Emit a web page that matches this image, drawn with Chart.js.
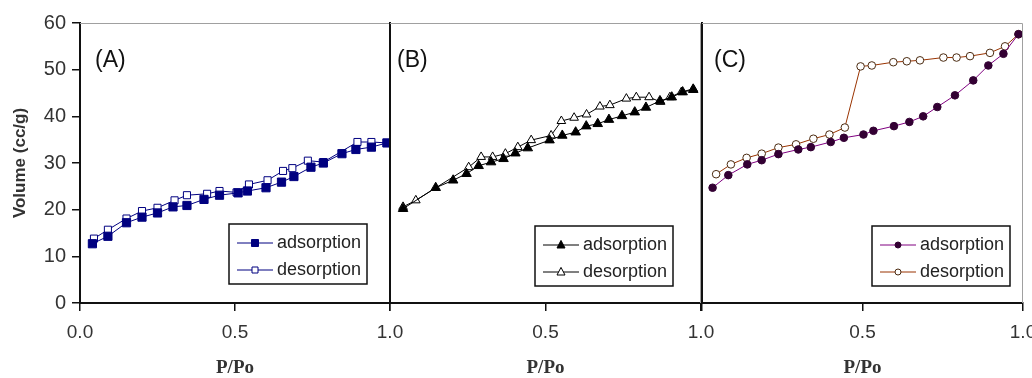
<!DOCTYPE html>
<html>
<head>
<meta charset="utf-8">
<script src="https://cdn.jsdelivr.net/npm/chart.js@4/dist/chart.umd.min.js"></script>
<style>
  body { margin: 0; background: #fff; }
  #wrap { position: relative; width: 1032px; height: 378px; overflow: hidden; }
  canvas { position: absolute; top: 0; }
</style>
</head>
<body>
<div id="wrap">
  <canvas id="chartA" width="410" height="378" style="left:0px"></canvas>
  <canvas id="chartB" width="345" height="378" style="left:380px"></canvas>
  <canvas id="chartC" width="342" height="378" style="left:690px"></canvas>
</div>
<script>
// values, P/Po vs volume (cc/g)
const xTicks = [0, 0.5, 1.0];
const yTicks = [0, 10, 20, 30, 40, 50, 60];
const seriesNames = ["adsorption", "desorption"];
const panelNames = ["(A)", "(B)", "(C)"];

const aAdsX = [0.04, 0.09, 0.15, 0.20, 0.25, 0.30, 0.345, 0.40, 0.45, 0.51, 0.54, 0.60, 0.65, 0.69, 0.745, 0.785, 0.845, 0.89, 0.94, 0.99];
const aAdsY = [12.7, 14.3, 17.2, 18.4, 19.3, 20.6, 20.9, 22.2, 23.1, 23.6, 24.0, 24.7, 25.9, 27.1, 29.1, 30.0, 32.0, 32.9, 33.4, 34.3];
const aDesX = [0.045, 0.09, 0.15, 0.20, 0.25, 0.305, 0.345, 0.41, 0.45, 0.505, 0.545, 0.605, 0.655, 0.685, 0.735, 0.785, 0.895, 0.94, 0.99];
const aDesY = [13.8, 15.7, 18.1, 19.7, 20.4, 22.0, 23.1, 23.4, 24.0, 23.7, 25.4, 26.3, 28.3, 28.9, 30.5, 30.2, 34.5, 34.5, 34.3];

const bAdsX = [0.042, 0.147, 0.203, 0.246, 0.285, 0.325, 0.365, 0.403, 0.443, 0.513, 0.554, 0.597, 0.631, 0.668, 0.704, 0.746, 0.787, 0.823, 0.868, 0.906, 0.941, 0.975];
const bAdsY = [20.2, 24.7, 26.3, 27.7, 29.4, 30.2, 30.9, 32.1, 33.2, 34.9, 35.9, 36.6, 37.9, 38.4, 39.3, 40.1, 40.9, 41.9, 43.3, 44.1, 45.2, 45.7];
const bDesX = [0.042, 0.083, 0.253, 0.293, 0.33, 0.371, 0.411, 0.454, 0.518, 0.551, 0.592, 0.632, 0.675, 0.707, 0.76, 0.792, 0.833, 0.87, 0.9, 0.937, 0.975];
const bDesY = [20.6, 22.0, 29.1, 31.3, 31.3, 32.0, 33.4, 34.9, 35.9, 39.0, 39.7, 40.4, 42.1, 42.4, 43.8, 44.1, 44.1, 43.1, 44.1, 45.2, 45.9];

const cAdsX = [0.033, 0.082, 0.141, 0.186, 0.238, 0.30, 0.339, 0.401, 0.442, 0.503, 0.534, 0.598, 0.646, 0.689, 0.733, 0.788, 0.845, 0.892, 0.939, 0.986];
const cAdsY = [24.7, 27.4, 29.7, 30.6, 31.9, 32.9, 33.4, 34.5, 35.4, 36.1, 36.9, 37.9, 38.8, 40.0, 42.0, 44.5, 47.7, 50.9, 53.4, 57.6];
const cDesX = [0.044, 0.09, 0.139, 0.186, 0.238, 0.293, 0.347, 0.397, 0.445, 0.494, 0.529, 0.596, 0.638, 0.679, 0.752, 0.793, 0.835, 0.897, 0.944, 0.986];
const cDesY = [27.6, 29.7, 31.1, 32.0, 33.3, 34.0, 35.2, 36.1, 37.6, 50.7, 50.9, 51.6, 51.8, 52.0, 52.6, 52.6, 52.9, 53.6, 55.0, 57.6];

function toPoints(xs, ys) {
    return xs.map((x, i) => ({ x: x, y: ys[i] }));
}

// draws a marker like the ones chart.js uses, for the legend box
function drawMarker(ctx, style, x, y, r, fill, stroke) {
    ctx.save();
    ctx.fillStyle = fill;
    ctx.strokeStyle = stroke;
    ctx.lineWidth = 1;
    ctx.beginPath();
    if (style === "rect") {
        ctx.rect(x - r, y - r, 2 * r, 2 * r);
    } else if (style === "triangle") {
        ctx.moveTo(x, y - r * 1.15);
        ctx.lineTo(x + r, y + r * 0.75);
        ctx.lineTo(x - r, y + r * 0.75);
        ctx.closePath();
    } else {
        ctx.arc(x, y, r, 0, Math.PI * 2);
    }
    ctx.fill();
    ctx.stroke();
    ctx.restore();
}

// gray frame, panel label and the legend box inside the plot
const panelPlugin = {
    id: "panelExtras",
    afterDraw(chart, args, opts) {
        const ctx = chart.ctx;
        const area = chart.chartArea;
        ctx.save();
        ctx.strokeStyle = "#a0a0a0";
        ctx.lineWidth = 1;
        ctx.beginPath();
        ctx.moveTo(area.left, area.top + 0.5);
        ctx.lineTo(area.right - 0.5, area.top + 0.5);
        ctx.lineTo(area.right - 0.5, area.bottom);
        ctx.stroke();

        ctx.fillStyle = "#111";
        ctx.font = "23px 'Liberation Sans', Arial, sans-serif";
        ctx.textBaseline = "alphabetic";
        ctx.fillText(opts.label, area.left + opts.labelDx, area.top + 44);

        // legend
        const w = 138, h = 60;
        const bx = area.right - opts.legendRight - w;
        const by = area.bottom - opts.legendBottom - h;
        ctx.fillStyle = "#fff";
        ctx.fillRect(bx, by, w, h);
        ctx.strokeStyle = "#111";
        ctx.lineWidth = 1.5;
        ctx.strokeRect(bx, by, w, h);
        ctx.font = "18px 'Liberation Sans', Arial, sans-serif";
        ctx.textBaseline = "middle";
        chart.data.datasets.forEach((ds, i) => {
            const ry = by + 19 + i * 27;
            ctx.strokeStyle = ds.borderColor;
            ctx.lineWidth = 1;
            ctx.beginPath();
            ctx.moveTo(bx + 8, ry);
            ctx.lineTo(bx + 44, ry);
            ctx.stroke();
            drawMarker(ctx, ds.pointStyle, bx + 26, ry, ds.legendR, ds.pointBackgroundColor, ds.pointBorderColor);
            ctx.fillStyle = "#222";
            ctx.fillText(ds.label, bx + 48, ry);
        });
        ctx.restore();
    }
};

function makePanel(canvasId, datasets, opts) {
    const ctx = document.getElementById(canvasId);
    return new Chart(ctx, {
        type: "line",
        data: { datasets: datasets },
        options: {
            responsive: false,
            animation: false,
            devicePixelRatio: 1,
            layout: { padding: { top: 23, right: opts.padRight, left: 0, bottom: 0 } },
            plugins: {
                legend: { display: false },
                tooltip: { enabled: false },
                panelExtras: opts.extras
            },
            scales: {
                x: {
                    type: "linear",
                    min: 0,
                    max: 1,
                    afterBuildTicks: (scale) => { scale.ticks = xTicks.map(v => ({ value: v })); },
                    afterFit: (scale) => {
                        scale.height = 75;
                        scale.paddingLeft = 0; scale.paddingRight = 0;
                    },
                    ticks: {
                        color: "#333",
                        font: { family: "'Liberation Sans', Arial, sans-serif", size: 19 },
                        padding: 10,
                        maxRotation: 0,
                        autoSkip: false,
                        callback: (v) => (opts.hideZero && v === 0) ? "" : v.toFixed(1)
                    },
                    grid: { drawOnChartArea: false, drawTicks: true, tickLength: 8, color: "#111", lineWidth: 1.5 },
                    border: { color: "#111", width: 2 },
                    title: {
                        display: true,
                        text: "P/Po",
                        color: "#333",
                        font: { family: "'Liberation Serif', 'Times New Roman', serif", size: 19, weight: "bold", lineHeight: 1 },
                        padding: { top: 0, bottom: 0 }
                    }
                },
                y: {
                    min: 0,
                    max: 60,
                    afterBuildTicks: (scale) => { scale.ticks = yTicks.map(v => ({ value: v })); },
                    afterFit: (scale) => {
                        scale.width = opts.yWidth;
                        scale.paddingTop = 0; scale.paddingBottom = 0;
                    },
                    ticks: {
                        display: opts.showY,
                        color: "#333",
                        font: { family: "'Liberation Sans', Arial, sans-serif", size: 20 },
                        padding: 6
                    },
                    grid: { drawOnChartArea: false, drawTicks: opts.showY, tickLength: 8, color: "#111", lineWidth: 1.5 },
                    border: { color: "#111", width: 2 },
                    title: {
                        display: opts.showY,
                        text: "Volume (cc/g)",
                        color: "#333",
                        font: { family: "'Liberation Sans', Arial, sans-serif", size: 17, weight: "bold", lineHeight: 1.2 },
                        padding: { top: 10, bottom: 0 }
                    }
                }
            }
        },
        plugins: [panelPlugin]
    });
}

function series(label, xs, ys, line, style, r, fill, stroke, legendR) {
    return {
        label: label,
        data: toPoints(xs, ys),
        borderColor: line,
        borderWidth: 1,
        pointStyle: style,
        pointRadius: r,
        pointBackgroundColor: fill,
        pointBorderColor: stroke,
        pointBorderWidth: 1,
        tension: 0,
        legendR: legendR
    };
}

makePanel("chartA", [
    series(seriesNames[0], aAdsX, aAdsY, "#000080", "rect", 5.8, "#000080", "#000080", 3.5),
    series(seriesNames[1], aDesX, aDesY, "#000080", "rect", 5, "#ffffff", "#000080", 3)
], { padRight: 20, yWidth: 80, showY: true, hideZero: false,
     extras: { label: panelNames[0], labelDx: 15, legendRight: 23, legendBottom: 19 } });

makePanel("chartB", [
    series(seriesNames[0], bAdsX, bAdsY, "#000000", "triangle", 5.5, "#000000", "#000000", 4),
    series(seriesNames[1], bDesX, bDesY, "#000000", "triangle", 5, "#ffffff", "#000000", 4)
], { padRight: 24, yWidth: 10, showY: false, hideZero: true,
     extras: { label: panelNames[1], labelDx: 7, legendRight: 28, legendBottom: 17 } });

makePanel("chartC", [
    series(seriesNames[0], cAdsX, cAdsY, "#800080", "circle", 3.8, "#330033", "#330033", 3),
    series(seriesNames[1], cDesX, cDesY, "#993300", "circle", 3.8, "#ffffff", "#4a2a10", 3)
], { padRight: 9, yWidth: 12, showY: false, hideZero: true,
     extras: { label: panelNames[2], labelDx: 12, legendRight: 13, legendBottom: 17 } });
</script>
</body>
</html>
